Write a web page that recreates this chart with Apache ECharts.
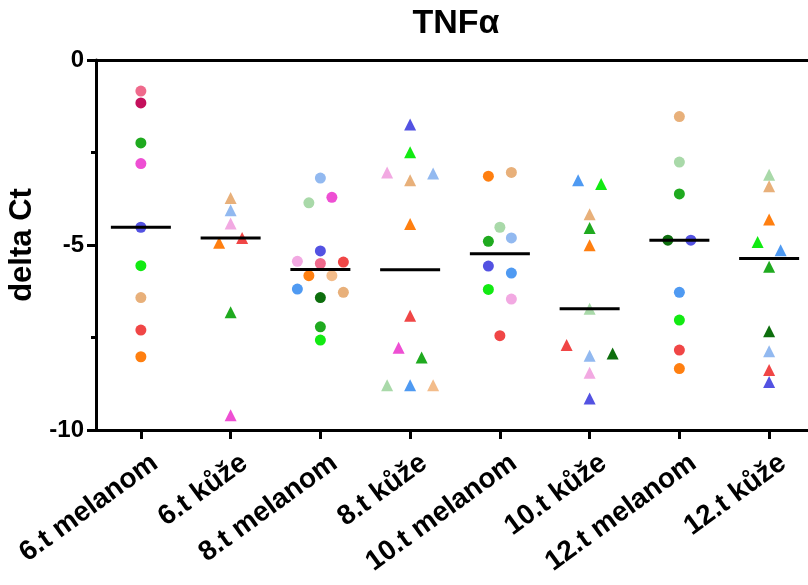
<!DOCTYPE html>
<html>
<head>
<meta charset="utf-8">
<script src="https://cdn.jsdelivr.net/npm/echarts@6/dist/echarts.min.js"></script>
<style>
  html, body { margin: 0; padding: 0; background: #fff; }
  #chart { width: 808px; height: 585px; }
</style>
</head>
<body>
<div id="chart"></div>
<script>
// Groups along the x axis
const categories = ['6.t melanom', '6.t kůže', '8.t melanom', '8.t kůže',
                    '10.t melanom', '10.t kůže', '12.t melanom', '12.t kůže'];

// Tick values of the delta Ct axis
const yTicks = [0, -5, -10];

// Each animal keeps its own colour across all groups
const subjectColors = {
  A: '#ef6a8c', B: '#c4105c', C: '#1faa1f', D: '#ee4fd3', E: '#5352e2',
  F: '#12ea12', G: '#e8b07a', H: '#f04646', I: '#ff7f10', J: '#92b9f0',
  K: '#f2a9e2', L: '#a9d9a9', M: '#4f9af2', N: '#0d6e0d', O: '#f3bc8a'
};

// delta Ct per group, listed in table row order with the animal of each row
const subjects6m  = ['A', 'B', 'C', 'D', 'E', 'F', 'G', 'H', 'I'];
const values6m    = [-0.84, -1.16, -2.24, -2.80, -4.52, -5.56, -6.42, -7.30, -8.02];

const subjects6k  = ['G', 'J', 'K', 'I', 'H', 'C', 'D'];
const values6k    = [-3.73, -4.06, -4.42, -4.94, -4.81, -6.82, -9.60];

const subjects8m  = ['J', 'L', 'D', 'E', 'K', 'A', 'H', 'I', 'O', 'M', 'N', 'G', 'C', 'F'];
const values8m    = [-3.19, -3.86, -3.71, -5.16, -5.44, -5.50, -5.46, -5.83, -5.83, -6.19, -6.42, -6.28, -7.21, -7.57];

const subjects8k  = ['E', 'F', 'K', 'G', 'J', 'I', 'H', 'D', 'C', 'L', 'M', 'O'];
const values8k    = [-1.74, -2.49, -3.04, -3.25, -3.07, -4.43, -6.91, -7.78, -8.04, -8.79, -8.79, -8.79];

const subjects10m = ['I', 'G', 'L', 'C', 'J', 'E', 'M', 'F', 'K', 'H'];
const values10m   = [-3.14, -3.04, -4.52, -4.90, -4.81, -5.57, -5.76, -6.20, -6.46, -7.45];

const subjects10k = ['M', 'F', 'G', 'C', 'I', 'L', 'H', 'J', 'N', 'K', 'E'];
const values10k   = [-3.25, -3.35, -4.17, -4.54, -5.01, -6.72, -7.70, -7.99, -7.93, -8.45, -9.15];

const subjects12m = ['G', 'L', 'C', 'N', 'E', 'M', 'F', 'H', 'I'];
const values12m   = [-1.53, -2.76, -3.62, -4.87, -4.87, -6.28, -7.03, -7.84, -8.34];

const subjects12k = ['L', 'G', 'I', 'F', 'M', 'C', 'N', 'J', 'H', 'E'];
const values12k   = [-3.10, -3.41, -4.31, -4.92, -5.14, -5.59, -7.33, -7.87, -8.38, -8.70];

const groups = [
  { subjects: subjects6m,  values: values6m },
  { subjects: subjects6k,  values: values6k },
  { subjects: subjects8m,  values: values8m },
  { subjects: subjects8k,  values: values8k },
  { subjects: subjects10m, values: values10m },
  { subjects: subjects10k, values: values10k },
  { subjects: subjects12m, values: values12m },
  { subjects: subjects12k, values: values12k }
];

const FONT = '"Liberation Sans", Arial, Helvetica, sans-serif';
const ROW_GAP = 0.27;        // points closer than this (delta Ct) share a row
const STEP = 23 / 89.75;     // horizontal spacing inside a row, in category widths

// Column scatter: points that sit too close vertically are spread
// symmetrically around the group centre, in table row order.
function swarmOffsets(vals) {
  const order = vals.map((v, i) => i).sort((a, b) => vals[b] - vals[a]);
  const offsets = new Array(vals.length).fill(0);
  let row = [order[0]];
  const flush = () => {
    const r = row.slice().sort((a, b) => a - b);
    r.forEach((idx, k) => { offsets[idx] = (k - (r.length - 1) / 2) * STEP; });
  };
  for (let k = 1; k < order.length; k++) {
    const prev = order[k - 1], cur = order[k];
    if (vals[prev] - vals[cur] < ROW_GAP) row.push(cur);
    else { flush(); row = [cur]; }
  }
  flush();
  return offsets;
}

function median(vals) {
  const s = vals.slice().sort((a, b) => a - b);
  const m = Math.floor(s.length / 2);
  return s.length % 2 ? s[m] : (s[m - 1] + s[m]) / 2;
}

const circlePoints = [];
const trianglePoints = [];
const medianPoints = [];
groups.forEach((g, gi) => {
  const offs = swarmOffsets(g.values);
  const target = gi % 2 === 0 ? circlePoints : trianglePoints;
  g.values.forEach((v, i) => {
    target.push({
      value: [gi + offs[i], v],
      itemStyle: { color: subjectColors[g.subjects[i]], opacity: 1 }
    });
  });
  medianPoints.push([gi, median(g.values)]);
});

const chart = echarts.init(document.getElementById('chart'), null, { renderer: 'canvas' });

// The plot runs past the right edge of the canvas
const GRID_LEFT = 96, GRID_TOP = 60, GRID_W = 718, GRID_H = 370;
const LABEL_SHIFT = 14;   // rotated group names sit slightly right of their ticks

const option = {
  animation: false,
  backgroundColor: '#fff',
  title: {
    text: 'TNFα',
    left: 451,
    top: 2,
    textAlign: 'center',
    textStyle: { fontFamily: FONT, fontSize: 34, fontWeight: 'bold', color: '#000' }
  },
  grid: [
    { left: GRID_LEFT, top: GRID_TOP, width: GRID_W, height: GRID_H,
      containLabel: false, outerBoundsMode: 'none' },
    // carries only the rotated group names
    { left: GRID_LEFT + LABEL_SHIFT, top: GRID_TOP, width: GRID_W, height: GRID_H,
      containLabel: false, outerBoundsMode: 'none' }
  ],
  xAxis: [
    {
      type: 'category',
      gridIndex: 0,
      data: categories,
      position: 'bottom',
      boundaryGap: true,
      axisLine: { onZero: false, lineStyle: { color: '#000', width: 3 } },
      axisTick: { show: true, alignWithLabel: true, interval: 0, length: 9,
                  lineStyle: { color: '#000', width: 3 } },
      // names are drawn by the shifted axis below; this one keeps the ticks
      axisLabel: { show: true, interval: 0, formatter: () => '' },
      splitLine: { show: false }
    },
    {
      type: 'value',
      gridIndex: 0,
      min: -0.5,
      max: 7.5,
      position: 'top',
      axisLine: { show: true, onZero: false, lineStyle: { color: '#000', width: 3 } },
      axisTick: { show: false },
      axisLabel: { show: false },
      splitLine: { show: false }
    },
    {
      type: 'category',
      gridIndex: 1,
      data: categories,
      position: 'bottom',
      boundaryGap: true,
      axisLine: { show: false, onZero: false },
      axisTick: { show: false },
      axisLabel: {
        interval: 0, rotate: 36, margin: 30,
        fontFamily: FONT, fontSize: 28, fontWeight: 'bold', color: '#000'
      },
      splitLine: { show: false }
    }
  ],
  yAxis: [
    {
      type: 'value',
      gridIndex: 0,
      min: -10,
      max: 0,
      interval: 5,
      name: 'delta Ct',
      nameLocation: 'middle',
      nameRotate: 90,
      nameGap: 49,
      nameTextStyle: { fontFamily: FONT, fontSize: 31, fontWeight: 'bold', color: '#000' },
      axisLine: { show: true, onZero: false, lineStyle: { color: '#000', width: 3 } },
      axisTick: { show: true, length: 9, lineStyle: { color: '#000', width: 3 } },
      minorTick: { show: true, splitNumber: 2, length: 5, lineStyle: { color: '#000', width: 3 } },
      axisLabel: {
        margin: 12, fontFamily: FONT, fontSize: 24, fontWeight: 'bold', color: '#000',
        formatter: v => (yTicks.indexOf(v) >= 0 ? String(v) : '')
      },
      splitLine: { show: false }
    },
    {
      type: 'value',
      gridIndex: 1,
      min: -10,
      max: 0,
      interval: 5,
      show: false
    }
  ],
  series: [
    {
      name: 'melanom',
      type: 'scatter',
      xAxisIndex: 1,
      yAxisIndex: 0,
      symbol: 'circle',
      symbolSize: 11,
      itemStyle: { opacity: 1 },
      data: circlePoints,
      z: 2
    },
    {
      name: 'kůže',
      type: 'scatter',
      xAxisIndex: 1,
      yAxisIndex: 0,
      symbol: 'triangle',
      symbolSize: 12,
      itemStyle: { opacity: 1 },
      data: trianglePoints,
      z: 2
    },
    {
      name: 'medián',
      type: 'scatter',
      xAxisIndex: 1,
      yAxisIndex: 0,
      symbol: 'rect',
      symbolSize: [60, 3],
      itemStyle: { color: '#000', opacity: 1 },
      data: medianPoints,
      z: 3
    }
  ]
};

chart.setOption(option);
</script>
</body>
</html>
